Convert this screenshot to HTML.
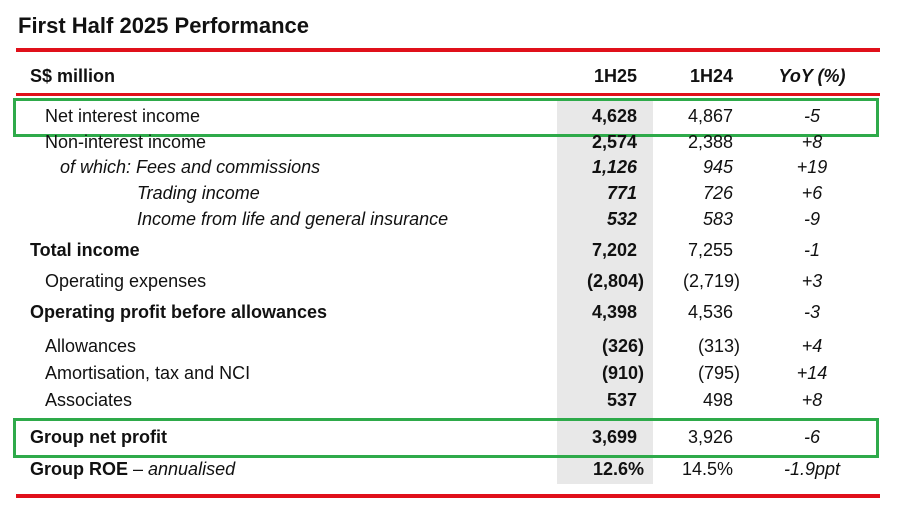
<!DOCTYPE html>
<html><head><meta charset="utf-8"><style>
body{margin:0;width:903px;height:523px;background:#fff;font-family:"Liberation Sans",Arial,sans-serif;color:#111;position:relative;overflow:hidden}
div{position:absolute;white-space:nowrap}
.t{font-size:18px;line-height:20px}
.b{font-weight:bold}.i{font-style:italic}
.c1{right:266px;text-align:right}
.c2{right:170px;text-align:right}
.c3{left:772px;width:80px;text-align:center}
.p{margin-right:-7px}
</style></head><body>
<div class="b" style="left:18px;top:13px;font-size:22px;line-height:26px">First Half 2025 Performance</div>
<div style="left:16px;top:48px;width:864px;height:4px;background:#e0101a"></div>
<div style="left:16px;top:93px;width:864px;height:3px;background:#e0101a"></div>
<div style="left:16px;top:494px;width:864px;height:4px;background:#e0101a"></div>
<div style="left:557px;top:98px;width:96px;height:386px;background:#e8e8e8"></div>
<div style="left:13px;top:98px;width:860px;height:33px;border:3px solid #2eaa4a"></div>
<div style="left:13px;top:418px;width:860px;height:34px;border:3px solid #2eaa4a"></div>

<div class="t b" style="left:30px;top:66px">S$ million</div>
<div class="t b c1" style="top:66px">1H25</div>
<div class="t b c2" style="top:66px">1H24</div>
<div class="t b i c3" style="top:66px">YoY (%)</div>

<div class="t" style="left:45px;top:106px">Net interest income</div>
<div class="t b c1" style="top:106px">4,628</div><div class="t c2" style="top:106px">4,867</div><div class="t i c3" style="top:106px">-5</div>

<div class="t" style="left:45px;top:132px">Non-interest income</div>
<div class="t b c1" style="top:132px">2,574</div><div class="t c2" style="top:132px">2,388</div><div class="t i c3" style="top:132px">+8</div>

<div class="t i" style="left:60px;top:157px">of which: Fees and commissions</div>
<div class="t b i c1" style="top:157px">1,126</div><div class="t i c2" style="top:157px">945</div><div class="t i c3" style="top:157px">+19</div>

<div class="t i" style="left:137px;top:183px">Trading income</div>
<div class="t b i c1" style="top:183px">771</div><div class="t i c2" style="top:183px">726</div><div class="t i c3" style="top:183px">+6</div>

<div class="t i" style="left:137px;top:209px">Income from life and general insurance</div>
<div class="t b i c1" style="top:209px">532</div><div class="t i c2" style="top:209px">583</div><div class="t i c3" style="top:209px">-9</div>

<div class="t b" style="left:30px;top:240px">Total income</div>
<div class="t b c1" style="top:240px">7,202</div><div class="t c2" style="top:240px">7,255</div><div class="t i c3" style="top:240px">-1</div>

<div class="t" style="left:45px;top:271px">Operating expenses</div>
<div class="t b c1 p" style="top:271px">(2,804)</div><div class="t c2 p" style="top:271px">(2,719)</div><div class="t i c3" style="top:271px">+3</div>

<div class="t b" style="left:30px;top:302px">Operating profit before allowances</div>
<div class="t b c1" style="top:302px">4,398</div><div class="t c2" style="top:302px">4,536</div><div class="t i c3" style="top:302px">-3</div>

<div class="t" style="left:45px;top:336px">Allowances</div>
<div class="t b c1 p" style="top:336px">(326)</div><div class="t c2 p" style="top:336px">(313)</div><div class="t i c3" style="top:336px">+4</div>

<div class="t" style="left:45px;top:363px">Amortisation, tax and NCI</div>
<div class="t b c1 p" style="top:363px">(910)</div><div class="t c2 p" style="top:363px">(795)</div><div class="t i c3" style="top:363px">+14</div>

<div class="t" style="left:45px;top:390px">Associates</div>
<div class="t b c1" style="top:390px">537</div><div class="t c2" style="top:390px">498</div><div class="t i c3" style="top:390px">+8</div>

<div class="t b" style="left:30px;top:427px">Group net profit</div>
<div class="t b c1" style="top:427px">3,699</div><div class="t c2" style="top:427px">3,926</div><div class="t i c3" style="top:427px">-6</div>

<div class="t" style="left:30px;top:459px"><b>Group ROE</b> – <i>annualised</i></div>
<div class="t b c1 p" style="top:459px">12.6%</div><div class="t c2" style="top:459px">14.5%</div><div class="t i c3" style="top:459px">-1.9ppt</div>
</body></html>
